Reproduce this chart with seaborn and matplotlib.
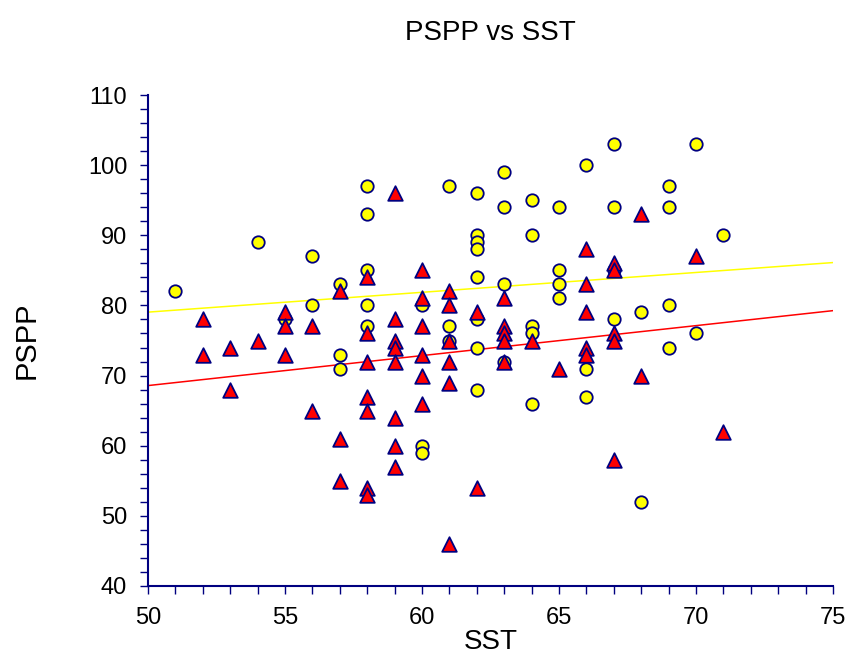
import numpy as np
import pandas as pd
import matplotlib
matplotlib.use("Agg")
import matplotlib.pyplot as plt
import seaborn as sns
from matplotlib.ticker import MultipleLocator

# ---- data ----
circle_sst = [51, 54, 55, 56, 56, 57, 57, 57, 58, 58, 58, 58, 58,
              60, 60, 60, 61, 61, 61,
              62, 62, 62, 62, 62, 62, 62, 62,
              63, 63, 63, 63, 64, 64, 64, 64, 64,
              65, 65, 65, 65, 66, 66, 66, 67, 67, 67, 67,
              68, 68, 69, 69, 69, 69, 70, 70, 71]
circle_pspp = [82, 89, 78, 87, 80, 83, 73, 71, 97, 93, 85, 80, 77,
               80, 60, 59, 97, 77, 75,
               96, 90, 89, 88, 84, 78, 74, 68,
               99, 94, 83, 72, 95, 90, 77, 76, 66,
               94, 85, 83, 81, 100, 71, 67, 103, 94, 85, 78,
               79, 52, 97, 94, 80, 74, 103, 76, 90]

tri_sst = [52, 52, 53, 53, 54, 55, 55, 55, 56, 56, 57, 57, 57,
           58, 58, 58, 58, 58, 58, 58,
           59, 59, 59, 59, 59, 59, 59, 59,
           60, 60, 60, 60, 60, 60,
           61, 61, 61, 61, 61, 61,
           62, 62, 63, 63, 63, 63, 63, 64, 65,
           66, 66, 66, 66, 66, 67, 67, 67, 67, 67,
           68, 68, 70, 71]
tri_pspp = [78, 73, 74, 68, 75, 79, 77, 73, 77, 65, 82, 61, 55,
            84, 76, 72, 67, 65, 54, 53,
            96, 78, 75, 74, 72, 64, 60, 57,
            85, 81, 77, 73, 70, 66,
            82, 80, 75, 72, 69, 46,
            79, 54, 81, 77, 76, 75, 72, 75, 71,
            88, 83, 79, 74, 73, 86, 85, 76, 75, 58,
            93, 70, 87, 62]

title = "PSPP vs SST"
x_label = "SST"
y_label = "PSPP"
x_ticks = [50, 55, 60, 65, 70, 75]
y_ticks = [40, 50, 60, 70, 80, 90, 100, 110]

# ---- styling ----
sns.set_theme(style="white")
plt.rcParams['font.family'] = ['Liberation Sans Narrow', 'Liberation Sans', 'DejaVu Sans']
plt.rcParams['text.color'] = 'black'
plt.rcParams['axes.labelcolor'] = 'black'

navy = "#000080"
fig = plt.figure(figsize=(8.5, 6.61), dpi=100)
ax = fig.add_axes([148/850, 1 - 586/661, (833-148)/850, (586-95)/661])

ax.set_xlim(50, 75)
ax.set_ylim(40, 110)

circ = pd.DataFrame({"SST": circle_sst, "PSPP": circle_pspp})
tri = pd.DataFrame({"SST": tri_sst, "PSPP": tri_pspp})

# regression lines (fit from data), spanning full x range
xs = np.array([50, 75])
for df, col in [(circ, "#FFFF00"), (tri, "#FF0000")]:
    b, a = np.polyfit(df["SST"], df["PSPP"], 1)
    ax.plot(xs, a + b * xs, color=col, lw=1.1, zorder=1)

sns.scatterplot(data=circ, x="SST", y="PSPP", ax=ax, marker="o", s=80,
                color="#FFFF00", edgecolor=navy, linewidth=1.3, zorder=3)
sns.scatterplot(data=tri, x="SST", y="PSPP", ax=ax, marker="^", s=110,
                color="#FF0000", edgecolor=navy, linewidth=1.3, zorder=4)

ax.set_xlim(50, 75)
ax.set_ylim(40, 110)
ax.set_xticks(x_ticks)
ax.set_yticks(y_ticks)
ax.xaxis.set_minor_locator(MultipleLocator(1))
ax.yaxis.set_minor_locator(MultipleLocator(2))

for s in ["top", "right"]:
    ax.spines[s].set_visible(False)
for s in ["left", "bottom"]:
    ax.spines[s].set_color(navy)
    ax.spines[s].set_linewidth(1.5)

ax.tick_params(axis="both", which="both", direction="out", color=navy,
               width=1.0, length=6, labelcolor="black", labelsize=17,
               bottom=True, left=True)
ax.tick_params(axis="x", which="major", pad=9)
ax.tick_params(axis="y", which="major", pad=9)

ax.set_xlabel(x_label, fontsize=20, labelpad=0)
ax.set_ylabel(y_label, fontsize=21, labelpad=34)
ax.grid(False)

fig.text((148+833)/2/850, 1 - 33/661, title, ha="center", va="center", fontsize=20)

fig.savefig("out.png", dpi=100)
